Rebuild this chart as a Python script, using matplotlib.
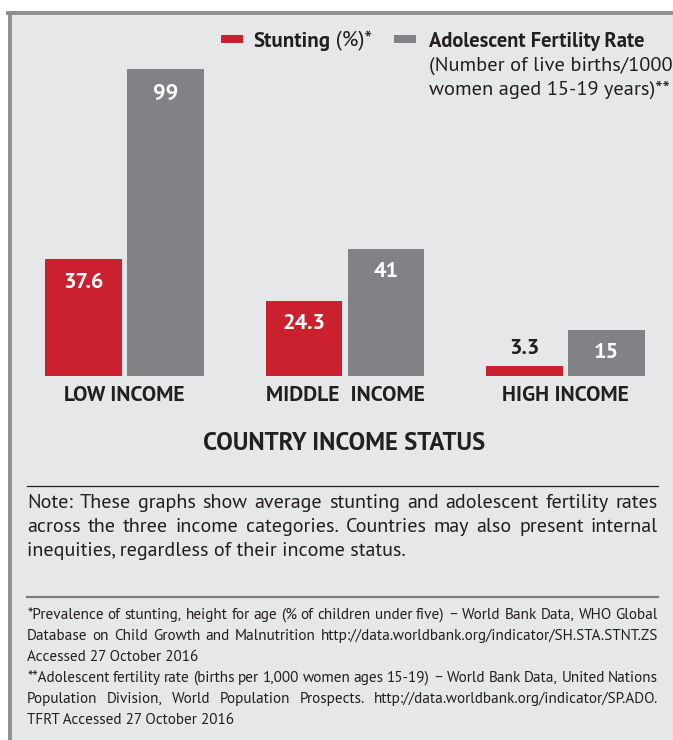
import matplotlib.pyplot as plt
from matplotlib.patches import Rectangle
from matplotlib.lines import Line2D
import numpy as np

# data
categories = ['LOW INCOME', 'MIDDLE  INCOME', 'HIGH INCOME']
stunting = [37.6, 24.3, 3.3]
fertility = [99, 41, 15]
stunting_labels = ['37.6', '24.3', '3.3']
fertility_labels = ['99', '41', '15']

note_lines = [
    'Note: These graphs show average stunting and adolescent fertility rates',
    'across the three income categories. Countries may also present internal',
    'inequities, regardless of their income status.',
]
foot1 = [
    '*Prevalence of stunting, height for age (% of children under five) \u2013 World Bank Data, WHO Global',
    'Database on Child Growth and Malnutrition http://data.worldbank.org/indicator/SH.STA.STNT.ZS',
    'Accessed 27 October 2016',
]
foot2 = [
    '**Adolescent fertility rate (births per 1,000 women ages 15-19) \u2013 World Bank Data, United Nations',
    'Population Division, World Population Prospects. http://data.worldbank.org/indicator/SP.ADO.',
    'TFRT Accessed 27 October 2016',
]

RED = '#cb202d'
GRAY = '#808285'
BG = '#e6e7e8'
BORDER = '#8e8f92'
TXT = '#231f20'
plt.rcParams['font.family'] = ['PT Sans', 'DejaVu Sans']

W, H = 673, 740
fig = plt.figure(figsize=(W / 100, H / 100), dpi=100)
fig.patch.set_facecolor('white')


def fx(x):
    return x / W


def fy(y):
    return 1 - y / H


# grey panel with border on top and left
fig.patches.append(Rectangle((fx(8), 0), 1 - fx(8), fy(11), transform=fig.transFigure,
                             facecolor=BG, edgecolor='none', zorder=-2))
fig.lines.append(Line2D([fx(9.5), fx(9.5)], [0, fy(12.5)], transform=fig.transFigure,
                        color=BORDER, lw=2.8, zorder=-1))
fig.lines.append(Line2D([fx(8), 1], [fy(12.5), fy(12.5)], transform=fig.transFigure,
                        color=BORDER, lw=2.8, zorder=-1))

# bars
ax = fig.add_axes([fx(20), fy(376), fx(660) - fx(20), fy(40) - fy(376)])
ax.set_facecolor('none')
ax.set_xlim((20 - 124.5) / 220.5, (660 - 124.5) / 220.5)
ax.set_ylim(0, 336 / 3.1)
x = np.arange(len(categories))
width, off = 0.345, 0.186
bars_s = ax.bar(x - off, stunting, width, color=RED)
bars_f = ax.bar(x + off, fertility, width, color=GRAY)

for bars, labels in [(bars_s, stunting_labels), (bars_f, fertility_labels)]:
    for b, lab in zip(bars, labels):
        cx = b.get_x() + b.get_width() / 2
        if b.get_height() > 10:
            ax.annotate(lab, (cx, b.get_height()), xytext=(0, -23), textcoords='offset pixels',
                        ha='center', va='center', color='white', fontsize=16, fontweight='bold')
        else:
            ax.annotate(lab, (cx, b.get_height()), xytext=(0, 17), textcoords='offset pixels',
                        ha='center', va='center', color=TXT, fontsize=16, fontweight='bold')

ax.set_xticks(x, categories)
ax.tick_params(axis='x', length=0, pad=7, labelsize=15.5, labelcolor=TXT)
for t in ax.get_xticklabels():
    t.set_fontweight('bold')
ax.set_yticks([])
for s in ax.spines.values():
    s.set_visible(False)

fig.text(fx(344), fy(444), 'COUNTRY INCOME STATUS', ha='center', va='center',
         fontsize=17.8, fontweight='bold', color=TXT)

# legend
fig.patches.append(Rectangle((fx(221), fy(43)), fx(22), 8 / H, transform=fig.transFigure,
                             facecolor=RED, edgecolor='none'))
fig.patches.append(Rectangle((fx(394), fy(43)), fx(22), 8 / H, transform=fig.transFigure,
                             facecolor=GRAY, edgecolor='none'))
t1 = fig.text(fx(253), fy(47), 'Stunting', fontsize=15, fontweight='bold', color=TXT,
              va='baseline')
ax.annotate(' (%)*', xy=(1, 0), xycoords=t1, va='bottom', ha='left', fontsize=15.5,
            color=TXT, annotation_clip=False)
fig.text(fx(429), fy(47), 'Adolescent Fertility Rate', fontsize=14.8, fontweight='bold',
         color=TXT, va='baseline')
fig.text(fx(429), fy(71), '(Number of live births/1000', fontsize=14.7, color=TXT, va='baseline')
fig.text(fx(429), fy(95), 'women aged 15-19 years)**', fontsize=14.7, color=TXT, va='baseline')

# rules
fig.lines.append(Line2D([fx(27), fx(658)], [fy(486), fy(486)], transform=fig.transFigure,
                        color=TXT, lw=0.9))
fig.lines.append(Line2D([fx(27), fx(658)], [fy(597), fy(597)], transform=fig.transFigure,
                        color='#7a7b7d', lw=1.6))

renderer = fig.canvas.get_renderer()


def text_block(lines, x0, x1, y0, step, size):
    for i, line in enumerate(lines):
        y = y0 + i * step
        if i == len(lines) - 1:
            fig.text(fx(x0), fy(y), line, fontsize=size, color=TXT, va='baseline')
            continue
        words = line.split()
        ts = [fig.text(0, fy(y), w, fontsize=size, color=TXT, va='baseline') for w in words]
        widths = [t.get_window_extent(renderer).width for t in ts]
        gap = (x1 - x0 - sum(widths)) / (len(words) - 1)
        pos = x0
        for t, w in zip(ts, widths):
            t.set_x(fx(pos))
            pos += w + gap


text_block(note_lines, 27, 658, 508, 24, 14.5)
text_block(foot1, 27, 658, 619, 21, 11)
text_block(foot2, 27, 658, 682, 21, 11)

fig.savefig('out.png', dpi=100)
